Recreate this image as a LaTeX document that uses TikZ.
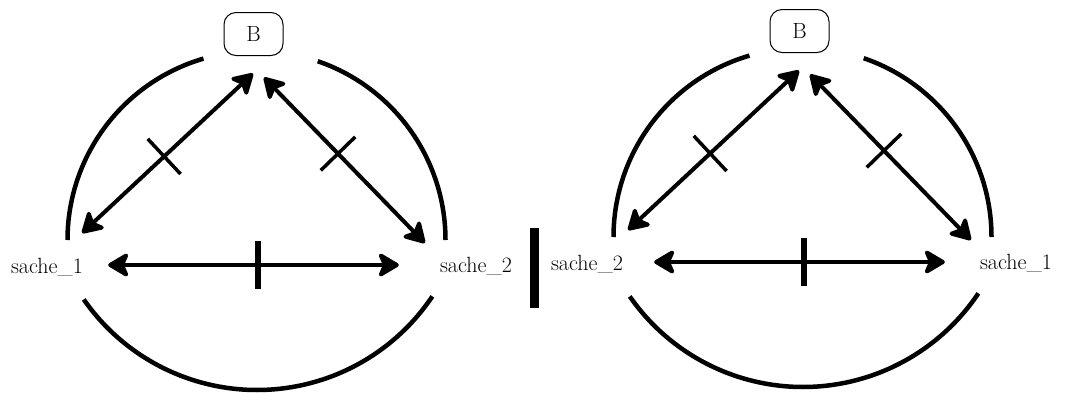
\documentclass[tikz,border=0pt]{standalone}
\usepackage{tikz}
\usetikzlibrary{arrows.meta}
\newcommand{\tacca}[1]{
\tikz \draw[-, line width=#1] (0,-24pt) -- (0,24pt);
}

\begin{document}
\begin{tikzpicture}[x=1pt, y=-1pt,
    freccia/.style = {line width=4pt, {Stealth[length=24pt, width=28pt, inset=6pt, round]}-{Stealth[length=24pt, width=28pt, inset=6pt, round]}},
    arco/.style = {line width=4.5pt},
    etichetta/.style = {inner sep=0pt, anchor=base, font=\fontsize{22}{26}\selectfont},
    scatola/.style = {draw, line width=1pt, rounded corners=12pt, minimum width=59pt, minimum height=43pt, inner sep=0pt, font=\fontsize{22}{26}\selectfont}]
    % Riquadro
    \useasboundingbox (0,0) rectangle (1065,392);
    % Barra
    \fill (530,228) rectangle (539,308);
    % Pannelli
    \foreach \dx/\dy/\ex/\sa/\sb/\k in {0/0/0/sache\_1/sache\_2/1, 546/-3/-6/sache\_2/sache\_1/2}{
    \begin{scope}[shift={(\dx,\dy)}]
        \node[scatola] (B\k) at (253.5,34) {B};
        \node[etichetta] (sx\k) at ({47+\ex},273) {\sa};
        \node[etichetta] (dx\k) at ({476+\ex},272) {\sb};
        % Archi
        \draw[arco] (256.5,240) ++(253.7:189) arc[start angle=253.7, end angle=180, radius=189];
        \draw[arco] (256.5,240) ++(288.9:189) arc[start angle=288.9, end angle=360, radius=189];
        \draw[arco] (257,179) ++(145.2:211) arc[start angle=145.2, end angle=33.8, radius=211];
        % Frecce
        \draw[freccia] ([shift={({-1-(\ex)},-40)}]sx\k.base east) -- ([shift={(-0.5,17.5)}]B\k.south) node[pos=0.48, sloped, inner sep=0pt]{\tacca{3.5pt}};
        \draw[freccia] ([shift={(10.5,21.5)}]B\k.south) -- ([shift={({-15-(\ex)},-29)}]dx\k.base west) node[pos=0.46, sloped, inner sep=0pt]{\tacca{3.5pt}};
        \draw[freccia] ([shift={({25-(\ex)},-8)}]sx\k.base east) -- ([shift={({-41-(\ex)},-7)}]dx\k.base west) node[pos=0.514, sloped, inner sep=0pt]{\tacca{6pt}};
    \end{scope}}
\end{tikzpicture}
\end{document}
